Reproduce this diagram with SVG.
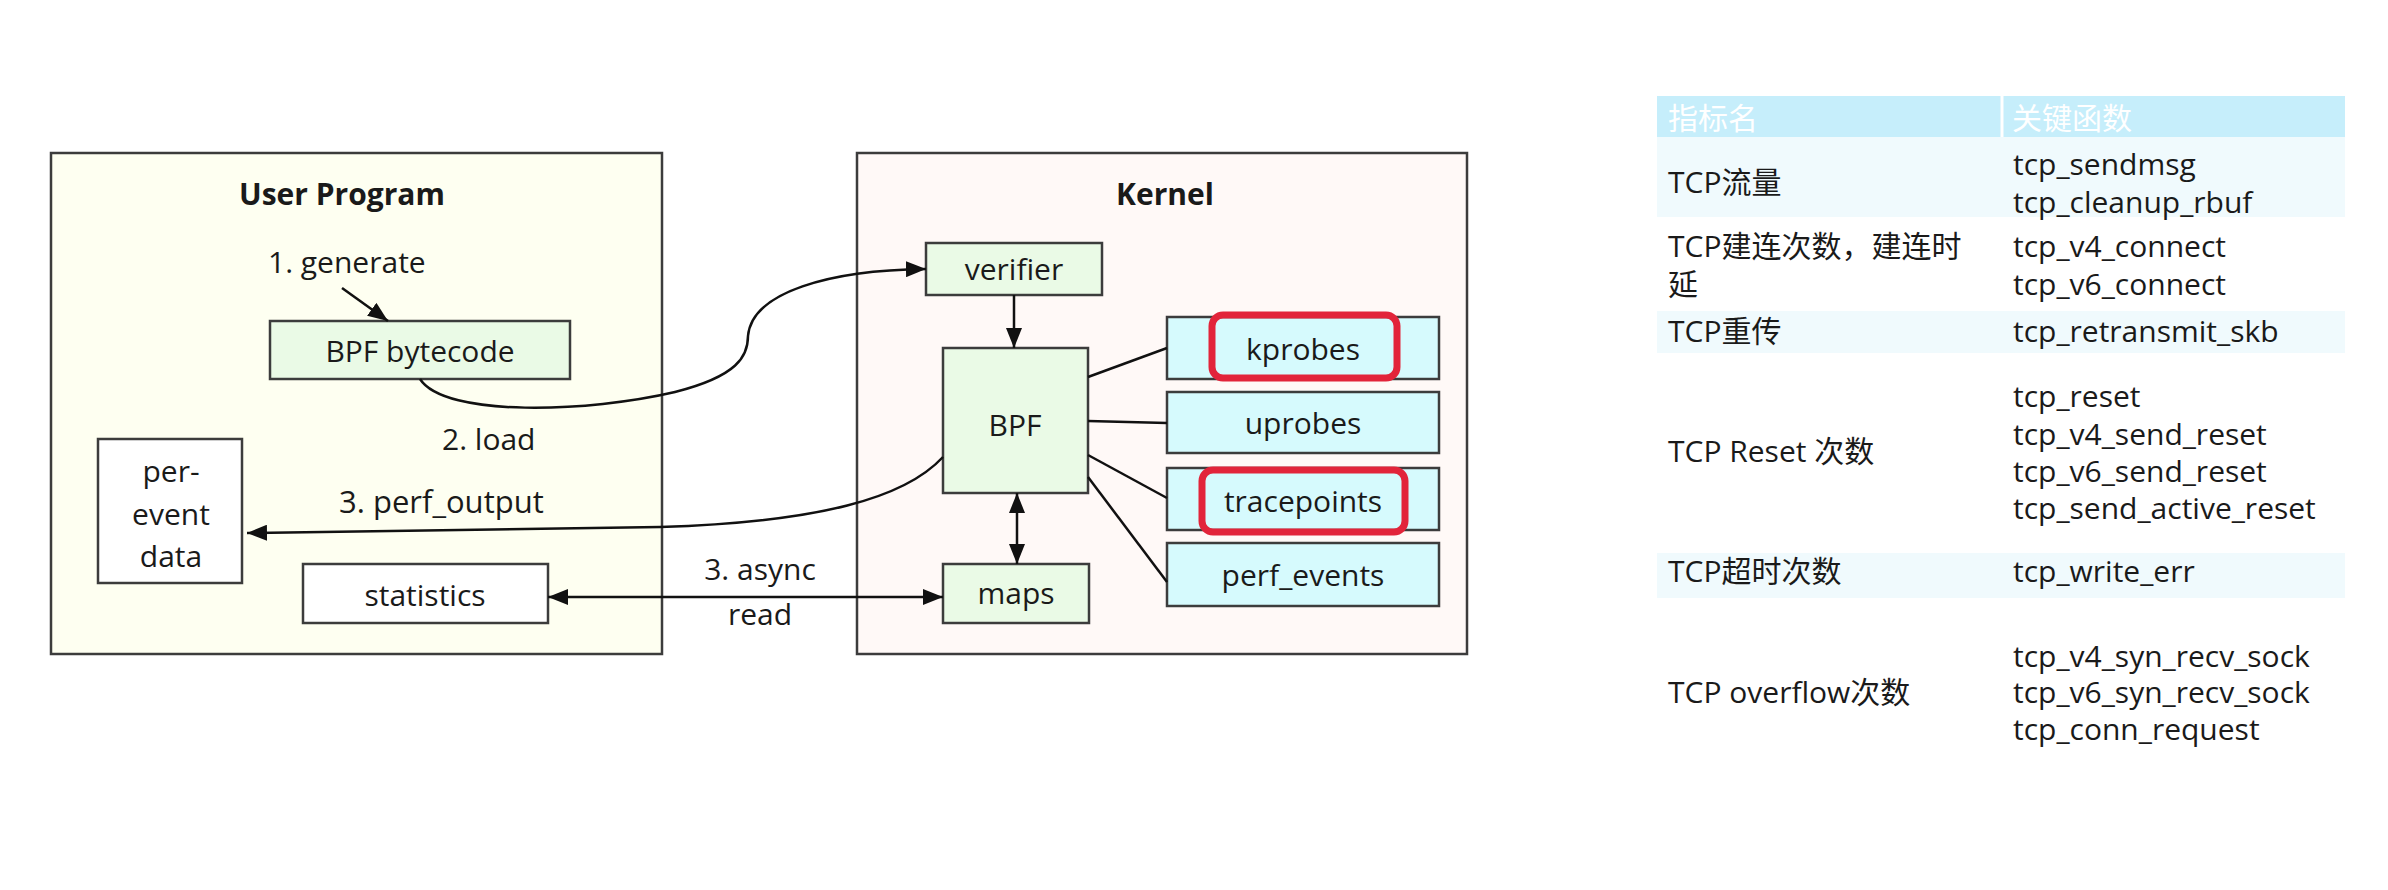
<svg xmlns="http://www.w3.org/2000/svg" width="2388" height="890" viewBox="0 0 2388 890">
<defs>
<style>
.t{font-family:"Open Sans","Noto Sans CJK SC",sans-serif;font-size:30px;fill:#1a1a1a}
.b{font-weight:bold}
.m{text-anchor:middle}
.box{stroke:#3c3c3c;stroke-width:2.5}
.green{fill:#EAFAE6}
.cyan{fill:#D6FAFD}
.white{fill:#FFFFFF}
.red{fill:none;stroke:#E2243A;stroke-width:7}
.ln{fill:none;stroke:#111;stroke-width:2.5}
.hd{font-family:"Open Sans","Noto Sans CJK SC",sans-serif;font-size:30px;fill:#FFFFFF}
</style>
<marker id="ah" markerUnits="userSpaceOnUse" markerWidth="22" markerHeight="16" refX="20" refY="8" orient="auto-start-reverse">
<path d="M0,0 L20,8 L0,16 z" fill="#111"/>
</marker>
</defs>
<rect width="2388" height="890" fill="#FFFFFF"/>

<g id="user-program">
<rect class="box" x="51" y="153" width="611" height="501" fill="#FEFFF1"/>
<text class="t b m" x="342" y="205">User Program</text>
</g>
<g id="kernel">
<rect class="box" x="857" y="153" width="610" height="501" fill="#FFF9F7"/>
<text class="t b m" x="1165" y="205">Kernel</text>
</g>

<g id="bpf-bytecode">
<rect class="box green" x="270" y="321" width="300" height="58"/>
<text class="t m" x="420" y="362">BPF bytecode</text>
</g>
<g id="per-event-data">
<rect class="box white" x="98" y="439" width="144" height="144"/>
<text class="t m" x="171" y="482">per-</text>
<text class="t m" x="171" y="525">event</text>
<text class="t m" x="171" y="567">data</text>
</g>
<g id="statistics">
<rect class="box white" x="303" y="564" width="245" height="59"/>
<text class="t m" x="425" y="606">statistics</text>
</g>
<g id="verifier">
<rect class="box green" x="926" y="243" width="176" height="52"/>
<text class="t m" x="1014" y="280">verifier</text>
</g>
<g id="bpf">
<rect class="box green" x="943" y="348" width="145" height="145"/>
<text class="t m" x="1015" y="436">BPF</text>
</g>
<g id="maps">
<rect class="box green" x="943" y="564" width="146" height="59"/>
<text class="t m" x="1016" y="604">maps</text>
</g>
<g id="kprobes">
<rect class="box cyan" x="1167" y="317" width="272" height="62"/>
<rect class="red" x="1212" y="315" width="185" height="63" rx="11"/>
<text class="t m" x="1303" y="360">kprobes</text>
</g>
<g id="uprobes">
<rect class="box cyan" x="1167" y="392" width="272" height="61"/>
<text class="t m" x="1303" y="434">uprobes</text>
</g>
<g id="tracepoints">
<rect class="box cyan" x="1167" y="468" width="272" height="62"/>
<rect class="red" x="1202" y="470" width="203" height="62" rx="11"/>
<text class="t m" x="1303" y="512">tracepoints</text>
</g>
<g id="perf-events">
<rect class="box cyan" x="1167" y="543" width="272" height="63"/>
<text class="t m" x="1303" y="586">perf_events</text>
</g>

<g id="connectors">
<line class="ln" x1="342" y1="288" x2="388" y2="321" marker-end="url(#ah)"/>
<path class="ln" d="M420,379 C445,418 590,412 675,392 C738,376 748,356 748,336 C752,292 830,270 926,269" marker-end="url(#ah)"/>
<line class="ln" x1="1014" y1="295" x2="1014" y2="348" marker-end="url(#ah)"/>
<line class="ln" x1="1017" y1="493" x2="1017" y2="564" marker-start="url(#ah)" marker-end="url(#ah)"/>
<path class="ln" d="M943,457 C905,498 820,522 660,527 L247,533" marker-end="url(#ah)"/>
<line class="ln" x1="548" y1="597" x2="943" y2="597" marker-start="url(#ah)" marker-end="url(#ah)"/>
<line class="ln" x1="1088" y1="377" x2="1167" y2="348"/>
<line class="ln" x1="1088" y1="421" x2="1167" y2="423"/>
<line class="ln" x1="1088" y1="455" x2="1167" y2="498"/>
<line class="ln" x1="1088" y1="477" x2="1167" y2="582"/>
<text class="t" x="268" y="273">1. generate</text>
<text class="t" x="442" y="450">2. load</text>
<text class="t" x="339" y="513" style="font-size:31px">3. perf_output</text>
<text class="t m" x="760" y="580">3. async</text>
<text class="t m" x="760" y="625">read</text>
</g>

<g id="table">
<rect x="1657" y="96" width="688" height="41" fill="#C6EEFB"/>
<line x1="2002" y1="96" x2="2002" y2="137" stroke="#FFFFFF" stroke-width="3"/>
<rect x="1657" y="137" width="688" height="80" fill="#F0FAFD"/>
<rect x="1657" y="311" width="688" height="42" fill="#F0FAFD"/>
<rect x="1657" y="553" width="688" height="45" fill="#F0FAFD"/>
<text class="hd" x="1668" y="129">指标名</text>
<text class="hd" x="2012" y="129">关键函数</text>
<text class="t" x="1668" y="193">TCP流量</text>
<text class="t" x="2013" y="175">tcp_sendmsg</text>
<text class="t" x="2013" y="213">tcp_cleanup_rbuf</text>
<text class="t" x="1668" y="257">TCP建连次数，建连时</text>
<text class="t" x="1668" y="295">延</text>
<text class="t" x="2013" y="257">tcp_v4_connect</text>
<text class="t" x="2013" y="295">tcp_v6_connect</text>
<text class="t" x="1668" y="342">TCP重传</text>
<text class="t" x="2013" y="342">tcp_retransmit_skb</text>
<text class="t" x="1668" y="462">TCP Reset 次数</text>
<text class="t" x="2013" y="407">tcp_reset</text>
<text class="t" x="2013" y="445">tcp_v4_send_reset</text>
<text class="t" x="2013" y="482">tcp_v6_send_reset</text>
<text class="t" x="2013" y="519">tcp_send_active_reset</text>
<text class="t" x="1668" y="582">TCP超时次数</text>
<text class="t" x="2013" y="582">tcp_write_err</text>
<text class="t" x="1668" y="703">TCP overflow次数</text>
<text class="t" x="2013" y="667">tcp_v4_syn_recv_sock</text>
<text class="t" x="2013" y="703">tcp_v6_syn_recv_sock</text>
<text class="t" x="2013" y="740">tcp_conn_request</text>
</g>
</svg>
